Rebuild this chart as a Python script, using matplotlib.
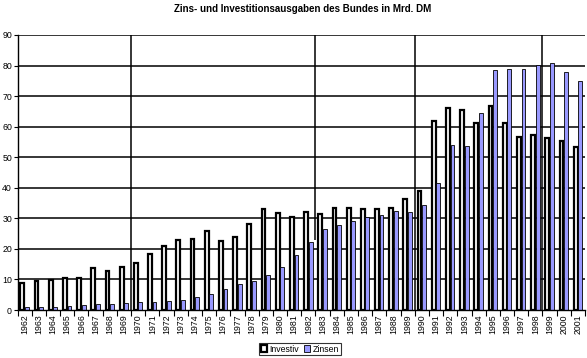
import matplotlib
matplotlib.use("Agg")
import matplotlib.pyplot as plt
from matplotlib.patches import Rectangle
import numpy as np

plt.rcParams['font.family'] = ['Liberation Sans', 'DejaVu Sans']

years = list(range(1962, 2002))
investiv = [8.7, 9.4, 9.9, 10.5, 10.4, 13.7, 12.7, 14.0, 15.3, 18.3,
            20.8, 23.0, 23.1, 25.8, 22.5, 23.8, 28.1, 33.0, 31.6, 30.6,
            32.0, 31.4, 33.5, 33.5, 32.9, 33.2, 33.5, 36.2, 39.1, 61.9,
            66.1, 65.5, 61.2, 66.8, 61.1, 56.6, 57.3, 56.3, 55.3, 53.3]
zinsen = [1.0, 1.0, 1.0, 1.3, 1.6, 1.9, 1.9, 2.3, 2.6, 2.6,
          2.9, 3.2, 4.3, 5.1, 6.8, 8.4, 9.4, 11.4, 14.0, 17.9,
          22.2, 26.4, 27.7, 29.2, 30.4, 31.0, 32.5, 32.1, 34.3, 41.5,
          54.0, 53.7, 64.6, 78.6, 78.9, 78.9, 80.2, 80.7, 77.9, 75.1]
series_names = ["Investiv", "Zinsen"]
title = "Zins- und Investitionsausgaben des Bundes in Mrd. DM"
# period breaks (vertical lines between years): (after year, lower value, upper value)
breaks = [(1969, 0, 90), (1982, 23, 90), (1989, 0, 90), (1998, 0, 90)]

W, H = 587, 358
fig = plt.figure(figsize=(W / 100, H / 100), dpi=100)
ax = fig.add_axes([17.5 / W, (H - 310) / H, (585 - 17.5) / W, (310 - 35) / H])

x = np.arange(len(years))
bw = 0.27
blue = "#9999FF"

for yr, lo, hi in breaks:
    xi = years.index(yr) + 0.5
    ax.plot([xi, xi], [lo, hi], color="black", lw=1.1, zorder=1, solid_capstyle="butt")

ax.set_ylim(0, 90)
ax.set_xlim(-0.5, len(years) - 0.5)
ax.set_yticks(range(0, 91, 10))
for v in range(10, 91, 10):
    ax.axhline(v, color="black", lw=1.1, zorder=1)

ax.bar(x - 0.16, investiv, width=bw, facecolor="white", edgecolor="black",
       linewidth=1.6, zorder=3, label=series_names[0])
ax.bar(x + 0.16, zinsen, width=bw, facecolor=blue, edgecolor="black",
       linewidth=0.6, zorder=3, label=series_names[1])

for s in ["top", "right"]:
    ax.spines[s].set_visible(False)
ax.spines["left"].set_linewidth(1.0)
ax.spines["bottom"].set_linewidth(1.0)
ax.spines["left"].set_zorder(4)
ax.spines["bottom"].set_zorder(4)

ax.set_xticks(x)
ax.set_xticklabels([str(y) for y in years], rotation=90, fontsize=6.3)
ax.set_xticks(np.arange(-0.5, len(years), 1), minor=True)
ax.tick_params(axis="x", which="major", length=0, pad=3)
ax.tick_params(axis="x", which="minor", length=4, width=0.8, direction="out")
ax.tick_params(axis="y", length=3, width=0.8, direction="out", labelsize=6.3, pad=1)

fig.text(0.515, 1 - 9.5 / H, title, ha="center", va="center",
         fontsize=7, fontweight="bold")

handles = [Rectangle((0, 0), 1, 1, facecolor="white", edgecolor="black", linewidth=1.6),
           Rectangle((0, 0), 1, 1, facecolor=blue, edgecolor="black", linewidth=0.6)]
leg = fig.legend(handles, series_names, loc="center", bbox_to_anchor=(300 / W, 1 - 349 / H),
                 ncol=2, fontsize=6.3, frameon=True, fancybox=False,
                 handlelength=0.7, handleheight=0.7, handletextpad=0.3,
                 columnspacing=0.6, borderpad=0.2, borderaxespad=0)
leg.get_frame().set_edgecolor("black")
leg.get_frame().set_linewidth(0.8)

fig.savefig("out.png", dpi=100)
